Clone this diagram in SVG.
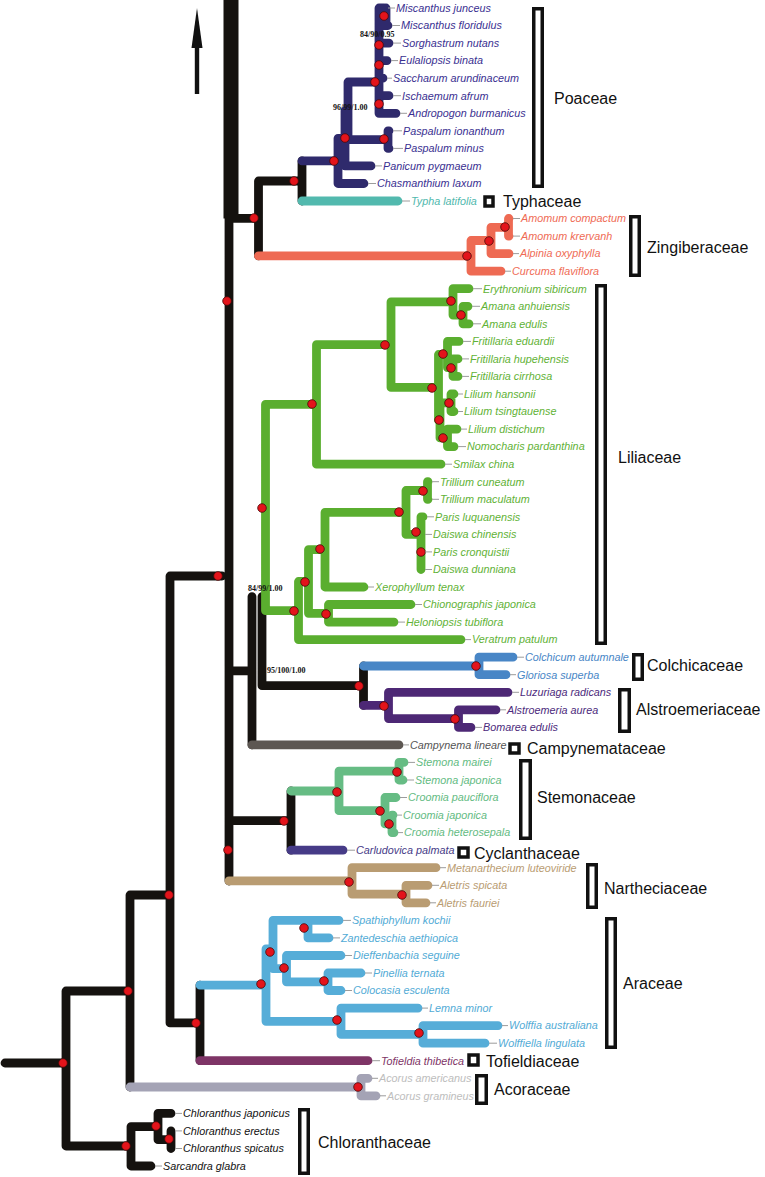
<svg xmlns="http://www.w3.org/2000/svg" width="765" height="1177" viewBox="0 0 765 1177">
<style>
.b{fill:none;stroke-width:8.8;stroke-linecap:round;stroke-linejoin:round}
.k{stroke:#15120f}.poa{stroke:#2f2a6c}.typ{stroke:#52b9ae}.zin{stroke:#ee6a53}.lil{stroke:#5aae2f}
.col{stroke:#4886c6}.als{stroke:#4d2875}.cam{stroke:#5d5752}.ste{stroke:#66bc84}.cyc{stroke:#463b87}
.nar{stroke:#b99c72}.ara{stroke:#56add8}.tof{stroke:#7e3466}.aco{stroke:#a4a3b5}
.d{fill:#e3141b;stroke:#4a0808;stroke-width:0.8}
.tk{stroke:#9c9c9c;stroke-width:1}
.t{font-family:"Liberation Sans",Arial,sans-serif;font-style:italic;font-size:10.8px}
.f{font-family:"Liberation Sans",Arial,sans-serif;font-size:16px;fill:#111}
.s{font-family:"Liberation Serif","Times New Roman",serif;font-weight:bold;font-size:8px;fill:#111}
.br{fill:#fff;stroke:#111;stroke-width:3.5}
.cpoa{fill:#3a3091}.ctyp{fill:#4fb8ad}.czin{fill:#ef6b55}.clil{fill:#5fb236}.ccol{fill:#4886c6}.cals{fill:#4c2a7c}
.ccam{fill:#555}.cste{fill:#63bb82}.ccyc{fill:#463b87}.cnar{fill:#b99c72}.cara{fill:#52abd6}.ctof{fill:#7e3466}.caco{fill:#bdbdbd}.cchl{fill:#111}
</style>

<g id="arrow">
<rect x="194.8" y="46" width="4.4" height="48" fill="#111"/>
<polygon points="197,8 202.5,48 191.5,48" fill="#111"/>
</g>

<g id="connectors">
<!-- black backbone -->
<path class="b k" d="M231,0 V218.4" style="stroke-width:15;stroke-linecap:butt"/>
<path class="b k" d="M229,218.4 V881 M229,218.4 H258.5 M258.5,181 V255.8 M258.5,181 H302 M302,160.9 V201
M229,670.8 H252 M252,596.6 V744.9 M262,596.6 V685.7 M262,685.7 H363.5 M363.5,666 V705.4
M229,820.6 H291 M291,791 V850.2
M170,576 H222 M170,576 V1022.9 M170,1022.9 H200 M200,985.1 V1060.7
M130,895 H170 M130,895 V1087 M66,991 H130 M66,991 V1146 M5,1063 H66 M66,1146 H131
M131,1126.6 V1166 M131,1126.6 H158 M158,1113.4 V1139.7 M158,1113.4 H171 M158,1139.7 H171 M171,1130.9 V1148.5 M171,1148.5 H171 M131,1166 H151"/>
<!-- Poaceae -->
<path class="b poa" d="M302,160.9 H338 M338,138.3 V183.5 M338,183.5 H364 M338,138.3 H345 M345,110.8 V165.9 M345,165.9 H371 M345,110.8 H348
M348,82 V139.6 M348,139.6 H388 M388,130.8 V148.4 M388,130.8 H389 M388,148.4 H389 M348,82 H379
M379,8 V113.3 M386,8 V25.5 M379,8 H384 M379,25.5 H388 M379,43.1 H389 M379,60.6 H387 M379,78.2 H383 M379,95.7 H389 M379,113.3 H396"/>
<path class="b typ" d="M302,201 H398"/>
<!-- Zingiberaceae -->
<path class="b zin" d="M258.5,255.8 H471 M471,240.5 V271.2 M471,271.2 H501 M471,240.5 H491 M491,227.3 V253.6 M491,253.6 H509 M491,227.3 H508.5 M508.5,218.5 V236.1 M508.5,218.5 H509 M508.5,236.1 H509"/>
<!-- Liliaceae -->
<path class="b lil" d="M265.5,404.4 V610.6 M265.5,404.4 H316.5 M316.5,344.7 V464.2 M316.5,464.2 H441 M316.5,344.7 H391
M391,301.9 V387.4 M391,301.9 H453 M453,288.7 V315.1 M453,288.7 H469 M453,315.1 H463 M463,306.3 V323.8 M463,306.3 H468 M463,323.8 H469
M391,387.4 H438.5 M438.5,354.5 V420.3 M438.5,354.5 H447.5 M447.5,341.4 V367.7 M447.5,341.4 H459 M447.5,367.7 H453 M453,358.9 V376.4 M453,358.9 H458 M453,376.4 H458
M438.5,420.3 H440 M440,402.8 V437.9 M440,402.8 H451 M451,394 V411.5 M451,394 H454 M451,411.5 H454 M440,437.9 H447.5 M447.5,429.1 V446.6 M447.5,429.1 H457 M447.5,446.6 H454
M265.5,610.6 H298.5 M298.5,581.5 V639.6 M298.5,639.6 H461 M298.5,581.5 H308.5 M308.5,549.7 V613.3 M308.5,613.3 H328.5 M328.5,604.5 V622.1 M328.5,604.5 H411 M328.5,622.1 H394
M308.5,549.7 H325 M325,512.4 V587 M325,587 H364 M325,512.4 H406 M406,490.5 V534.4 M406,490.5 H427.5 M427.5,481.7 V499.3 M427.5,481.7 H428 M427.5,499.3 H428
M406,534.4 H421 M421,516.8 V569.5 M421,516.8 H423 M421,534.4 H421 M421,551.9 H421 M421,569.5 H421"/>
<!-- Colchicaceae / Alstroemeriaceae -->
<path class="b col" d="M363.5,666 H479 M479,657.2 V674.7 M479,657.2 H513 M479,674.7 H506"/>
<path class="b als" d="M363.5,705.4 H388.5 M388.5,692.3 V718.6 M388.5,692.3 H508 M388.5,718.6 H458.5 M458.5,709.8 V727.4 M458.5,709.8 H496 M458.5,727.4 H471"/>
<path class="b cam" d="M252,744.9 H399"/>
<!-- Stemonaceae / Cyclanthaceae -->
<path class="b ste" d="M291,791 H339 M339,771.2 V810.7 M339,771.2 H399 M399,762.4 V780 M399,762.4 H404 M399,780 H403 M339,810.7 H385 M385,797.5 V823.9 M385,797.5 H396 M385,823.9 H392 M392,815.1 V832.6 M392,815.1 H393 M392,832.6 H394"/>
<path class="b cyc" d="M291,850.2 H343"/>
<!-- Nartheciaceae -->
<path class="b nar" d="M229,880.9 H352 M352,867.7 V894.1 M352,867.7 H436 M352,894.1 H406 M406,885.3 V902.8 M406,885.3 H428 M406,902.8 H426"/>
<!-- Araceae -->
<path class="b ara" d="M200,985.1 H266 M266,948.9 V1021.3 M266,948.9 H273 M273,920.4 V968.6 M273,920.4 H339 M308,920.4 V937.9 M308,937.9 H329
M273,968.6 H286.5 M286.5,955.5 V981.8 M286.5,955.5 H341 M286.5,981.8 H328 M328,973 V990.5 M328,973 H361 M328,990.5 H341
M266,1021.3 H341 M341,1008.1 V1034.4 M341,1008.1 H418 M341,1034.4 H423 M423,1025.6 V1043.2 M423,1025.6 H498 M423,1043.2 H485"/>
<path class="b tof" d="M200,1060.7 H368"/>
<path class="b aco" d="M130,1087 H361 M361,1078.3 V1095.8 M361,1078.3 H368 M361,1095.8 H376"/>
</g>

<g id="nodes-support">
<circle class="d" cx="384" cy="16" r="4.3"/><circle class="d" cx="379" cy="45" r="4.3"/><circle class="d" cx="379" cy="65" r="4.3"/>
<circle class="d" cx="375" cy="82" r="4.3"/><circle class="d" cx="379" cy="104" r="4.3"/><circle class="d" cx="384" cy="139" r="4.3"/>
<circle class="d" cx="345" cy="138" r="4.3"/><circle class="d" cx="334" cy="161" r="4.3"/><circle class="d" cx="294" cy="181" r="4.3"/>
<circle class="d" cx="254" cy="218" r="4.3"/><circle class="d" cx="505" cy="227" r="4.3"/><circle class="d" cx="489" cy="241" r="4.3"/>
<circle class="d" cx="467" cy="256" r="4.3"/><circle class="d" cx="227" cy="301" r="4.3"/>
<circle class="d" cx="451" cy="301" r="4.3"/><circle class="d" cx="461" cy="315" r="4.3"/><circle class="d" cx="385" cy="345" r="4.3"/>
<circle class="d" cx="443" cy="354" r="4.3"/><circle class="d" cx="451" cy="368" r="4.3"/><circle class="d" cx="432" cy="388" r="4.3"/>
<circle class="d" cx="312" cy="404" r="4.3"/><circle class="d" cx="449" cy="403" r="4.3"/><circle class="d" cx="439" cy="420" r="4.3"/>
<circle class="d" cx="443" cy="438" r="4.3"/><circle class="d" cx="423" cy="491" r="4.3"/><circle class="d" cx="262" cy="508" r="4.3"/>
<circle class="d" cx="399" cy="512" r="4.3"/><circle class="d" cx="416" cy="532" r="4.3"/><circle class="d" cx="320" cy="549" r="4.3"/>
<circle class="d" cx="421" cy="552" r="4.3"/><circle class="d" cx="218" cy="576" r="4.3"/><circle class="d" cx="305" cy="582" r="4.3"/>
<circle class="d" cx="294" cy="611" r="4.3"/><circle class="d" cx="326" cy="614" r="4.3"/>
<circle class="d" cx="476" cy="666" r="4.3"/><circle class="d" cx="359" cy="686" r="4.3"/><circle class="d" cx="384" cy="706" r="4.3"/>
<circle class="d" cx="455" cy="719" r="4.3"/>
<circle class="d" cx="397" cy="772" r="4.3"/><circle class="d" cx="337" cy="792" r="4.3"/><circle class="d" cx="380" cy="811" r="4.3"/>
<circle class="d" cx="284" cy="821" r="4.3"/><circle class="d" cx="389" cy="824" r="4.3"/><circle class="d" cx="228" cy="850" r="4.3"/>
<circle class="d" cx="349" cy="882" r="4.3"/><circle class="d" cx="169" cy="895" r="4.3"/><circle class="d" cx="402" cy="895" r="4.3"/>
<circle class="d" cx="304" cy="928" r="4.3"/><circle class="d" cx="270" cy="952" r="4.3"/><circle class="d" cx="284" cy="968" r="4.3"/>
<circle class="d" cx="324" cy="981" r="4.3"/><circle class="d" cx="261" cy="984" r="4.3"/><circle class="d" cx="128" cy="991" r="4.3"/>
<circle class="d" cx="337" cy="1020" r="4.3"/>
<circle class="d" cx="196" cy="1023" r="4.3"/><circle class="d" cx="419" cy="1033" r="4.3"/><circle class="d" cx="63" cy="1063" r="4.3"/>
<circle class="d" cx="358" cy="1087" r="4.3"/><circle class="d" cx="156" cy="1126" r="4.3"/><circle class="d" cx="169" cy="1139" r="4.3"/>
<circle class="d" cx="126" cy="1146" r="4.3"/>
<text class="s" x="360" y="37">84/90/0.95</text>
<text class="s" x="333" y="110">96/99/1.00</text>
<text class="s" x="248" y="591">84/99/1.00</text>
<text class="s" x="267" y="673">95/100/1.00</text>
</g>

<g id="leaves">
<g id="n-mjun"><line class="tk" x1="388" y1="8" x2="395" y2="8"/><text class="t cpoa" x="396" y="11.8">Miscanthus junceus</text></g>
<g id="n-mflo"><line class="tk" x1="392" y1="25.5" x2="400" y2="25.5"/><text class="t cpoa" x="401" y="29.3">Miscanthus floridulus</text></g>
<g id="n-sorg"><line class="tk" x1="393" y1="43.1" x2="401" y2="43.1"/><text class="t cpoa" x="402" y="46.9">Sorghastrum nutans</text></g>
<g id="n-eula"><line class="tk" x1="391" y1="60.6" x2="398" y2="60.6"/><text class="t cpoa" x="399" y="64.4">Eulaliopsis binata</text></g>
<g id="n-sacc"><line class="tk" x1="387" y1="78.2" x2="392" y2="78.2"/><text class="t cpoa" x="393" y="82">Saccharum arundinaceum</text></g>
<g id="n-isch"><line class="tk" x1="393" y1="95.7" x2="401" y2="95.7"/><text class="t cpoa" x="402" y="99.5">Ischaemum afrum</text></g>
<g id="n-andr"><line class="tk" x1="400" y1="113.3" x2="407" y2="113.3"/><text class="t cpoa" x="408" y="117.1">Andropogon burmanicus</text></g>
<g id="n-pion"><line class="tk" x1="393" y1="130.8" x2="402" y2="130.8"/><text class="t cpoa" x="403" y="134.6">Paspalum ionanthum</text></g>
<g id="n-pmin"><line class="tk" x1="393" y1="148.4" x2="403" y2="148.4"/><text class="t cpoa" x="404" y="152.2">Paspalum minus</text></g>
<g id="n-pani"><line class="tk" x1="375" y1="165.9" x2="382" y2="165.9"/><text class="t cpoa" x="383" y="169.7">Panicum pygmaeum</text></g>
<g id="n-chas"><line class="tk" x1="368" y1="183.5" x2="376" y2="183.5"/><text class="t cpoa" x="377" y="187.3">Chasmanthium laxum</text></g>
<g id="n-typh"><line class="tk" x1="402" y1="201" x2="410" y2="201"/><text class="t ctyp" x="411" y="204.8">Typha latifolia</text></g>
<g id="n-acom"><line class="tk" x1="513" y1="218.5" x2="520" y2="218.5"/><text class="t czin" x="521" y="222.3">Amomum compactum</text></g>
<g id="n-akre"><line class="tk" x1="513" y1="236.1" x2="520" y2="236.1"/><text class="t czin" x="521" y="239.9">Amomum krervanh</text></g>
<g id="n-alpi"><line class="tk" x1="513" y1="253.6" x2="519" y2="253.6"/><text class="t czin" x="520" y="257.4">Alpinia oxyphylla</text></g>
<g id="n-curc"><line class="tk" x1="505" y1="271.2" x2="511" y2="271.2"/><text class="t czin" x="512" y="275">Curcuma flaviflora</text></g>
<g id="n-eryt"><line class="tk" x1="473" y1="288.7" x2="482" y2="288.7"/><text class="t clil" x="483" y="292.5">Erythronium sibiricum</text></g>
<g id="n-aanh"><line class="tk" x1="472" y1="306.3" x2="480" y2="306.3"/><text class="t clil" x="481" y="310.1">Amana anhuiensis</text></g>
<g id="n-aedu"><line class="tk" x1="473" y1="323.8" x2="481" y2="323.8"/><text class="t clil" x="482" y="327.6">Amana edulis</text></g>
<g id="n-fedu"><line class="tk" x1="463" y1="341.4" x2="471" y2="341.4"/><text class="t clil" x="472" y="345.2">Fritillaria eduardii</text></g>
<g id="n-fhup"><line class="tk" x1="462" y1="358.9" x2="469" y2="358.9"/><text class="t clil" x="470" y="362.7">Fritillaria hupehensis</text></g>
<g id="n-fcir"><line class="tk" x1="462" y1="376.4" x2="469" y2="376.4"/><text class="t clil" x="470" y="380.2">Fritillaria cirrhosa</text></g>
<g id="n-lhan"><line class="tk" x1="458" y1="394" x2="463" y2="394"/><text class="t clil" x="464" y="397.8">Lilium hansonii</text></g>
<g id="n-ltsi"><line class="tk" x1="458" y1="411.5" x2="463" y2="411.5"/><text class="t clil" x="464" y="415.3">Lilium tsingtauense</text></g>
<g id="n-ldis"><line class="tk" x1="461" y1="429.1" x2="467" y2="429.1"/><text class="t clil" x="468" y="432.9">Lilium distichum</text></g>
<g id="n-nomo"><line class="tk" x1="458" y1="446.6" x2="466" y2="446.6"/><text class="t clil" x="467" y="450.4">Nomocharis pardanthina</text></g>
<g id="n-smil"><line class="tk" x1="445" y1="464.2" x2="452" y2="464.2"/><text class="t clil" x="453" y="468">Smilax china</text></g>
<g id="n-tcun"><line class="tk" x1="432" y1="481.7" x2="439" y2="481.7"/><text class="t clil" x="440" y="485.5">Trillium cuneatum</text></g>
<g id="n-tmac"><line class="tk" x1="432" y1="499.3" x2="439" y2="499.3"/><text class="t clil" x="440" y="503.1">Trillium maculatum</text></g>
<g id="n-pluq"><line class="tk" x1="427" y1="516.8" x2="434" y2="516.8"/><text class="t clil" x="435" y="520.6">Paris luquanensis</text></g>
<g id="n-dchi"><line class="tk" x1="425" y1="534.4" x2="432" y2="534.4"/><text class="t clil" x="433" y="538.2">Daiswa chinensis</text></g>
<g id="n-pcro"><line class="tk" x1="425" y1="551.9" x2="432" y2="551.9"/><text class="t clil" x="433" y="555.7">Paris cronquistii</text></g>
<g id="n-ddun"><line class="tk" x1="425" y1="569.5" x2="432" y2="569.5"/><text class="t clil" x="433" y="573.3">Daiswa dunniana</text></g>
<g id="n-xero"><line class="tk" x1="368" y1="587" x2="374" y2="587"/><text class="t clil" x="375" y="590.8">Xerophyllum tenax</text></g>
<g id="n-chio"><line class="tk" x1="415" y1="604.5" x2="422" y2="604.5"/><text class="t clil" x="423" y="608.3">Chionographis japonica</text></g>
<g id="n-helo"><line class="tk" x1="398" y1="622.1" x2="405" y2="622.1"/><text class="t clil" x="406" y="625.9">Heloniopsis tubiflora</text></g>
<g id="n-vera"><line class="tk" x1="465" y1="639.6" x2="471" y2="639.6"/><text class="t clil" x="472" y="643.4">Veratrum patulum</text></g>
<g id="n-colc"><line class="tk" x1="517" y1="657.2" x2="524" y2="657.2"/><text class="t ccol" x="525" y="661">Colchicum autumnale</text></g>
<g id="n-glor"><line class="tk" x1="510" y1="674.7" x2="516" y2="674.7"/><text class="t ccol" x="517" y="678.5">Gloriosa superba</text></g>
<g id="n-luzu"><line class="tk" x1="512" y1="692.3" x2="519" y2="692.3"/><text class="t cals" x="520" y="696.1">Luzuriaga radicans</text></g>
<g id="n-alst"><line class="tk" x1="500" y1="709.8" x2="506" y2="709.8"/><text class="t cals" x="507" y="713.6">Alstroemeria aurea</text></g>
<g id="n-boma"><line class="tk" x1="475" y1="727.4" x2="482" y2="727.4"/><text class="t cals" x="483" y="731.2">Bomarea edulis</text></g>
<g id="n-camp"><line class="tk" x1="403" y1="744.9" x2="409" y2="744.9"/><text class="t ccam" x="410" y="748.7">Campynema lineare</text></g>
<g id="n-smai"><line class="tk" x1="408" y1="762.4" x2="415" y2="762.4"/><text class="t cste" x="416" y="766.2">Stemona mairei</text></g>
<g id="n-sjap"><line class="tk" x1="407" y1="780" x2="414" y2="780"/><text class="t cste" x="415" y="783.8">Stemona japonica</text></g>
<g id="n-cpau"><line class="tk" x1="400" y1="797.5" x2="407" y2="797.5"/><text class="t cste" x="408" y="801.3">Croomia pauciflora</text></g>
<g id="n-cjap"><line class="tk" x1="397" y1="815.1" x2="402" y2="815.1"/><text class="t cste" x="403" y="818.9">Croomia japonica</text></g>
<g id="n-chet"><line class="tk" x1="398" y1="832.6" x2="403" y2="832.6"/><text class="t cste" x="404" y="836.4">Croomia heterosepala</text></g>
<g id="n-carl"><line class="tk" x1="347" y1="850.2" x2="355" y2="850.2"/><text class="t ccyc" x="356" y="854">Carludovica palmata</text></g>
<g id="n-meta"><line class="tk" x1="440" y1="867.7" x2="446" y2="867.7"/><text class="t cnar" x="447" y="871.5">Metanarthecium luteoviride</text></g>
<g id="n-aspi"><line class="tk" x1="432" y1="885.3" x2="439" y2="885.3"/><text class="t cnar" x="440" y="889.1">Aletris spicata</text></g>
<g id="n-afau"><line class="tk" x1="430" y1="902.8" x2="436" y2="902.8"/><text class="t cnar" x="437" y="906.6">Aletris fauriei</text></g>
<g id="n-spat"><line class="tk" x1="343" y1="920.4" x2="351" y2="920.4"/><text class="t cara" x="352" y="924.2">Spathiphyllum kochii</text></g>
<g id="n-zant"><line class="tk" x1="333" y1="937.9" x2="340" y2="937.9"/><text class="t cara" x="341" y="941.7">Zantedeschia aethiopica</text></g>
<g id="n-dief"><line class="tk" x1="345" y1="955.5" x2="352" y2="955.5"/><text class="t cara" x="353" y="959.3">Dieffenbachia seguine</text></g>
<g id="n-pine"><line class="tk" x1="365" y1="973" x2="372" y2="973"/><text class="t cara" x="373" y="976.8">Pinellia ternata</text></g>
<g id="n-colo"><line class="tk" x1="345" y1="990.5" x2="352" y2="990.5"/><text class="t cara" x="353" y="994.3">Colocasia esculenta</text></g>
<g id="n-lemn"><line class="tk" x1="422" y1="1008.1" x2="428" y2="1008.1"/><text class="t cara" x="429" y="1011.9">Lemna minor</text></g>
<g id="n-wolf"><line class="tk" x1="502" y1="1025.6" x2="508" y2="1025.6"/><text class="t cara" x="509" y="1029.4">Wolffia australiana</text></g>
<g id="n-wlin"><line class="tk" x1="489" y1="1043.2" x2="497" y2="1043.2"/><text class="t cara" x="498" y="1047">Wolffiella lingulata</text></g>
<g id="n-tofi"><line class="tk" x1="372" y1="1060.7" x2="380" y2="1060.7"/><text class="t ctof" x="381" y="1064.5">Tofieldia thibetica</text></g>
<g id="n-aame"><line class="tk" x1="372" y1="1078.3" x2="378" y2="1078.3"/><text class="t caco" x="379" y="1082.1">Acorus americanus</text></g>
<g id="n-agra"><line class="tk" x1="380" y1="1095.8" x2="386" y2="1095.8"/><text class="t caco" x="387" y="1099.6">Acorus gramineus</text></g>
<g id="n-cjpn"><line class="tk" x1="175" y1="1113.4" x2="182" y2="1113.4"/><text class="t cchl" x="183" y="1117.2">Chloranthus japonicus</text></g>
<g id="n-cere"><line class="tk" x1="175" y1="1130.9" x2="182" y2="1130.9"/><text class="t cchl" x="183" y="1134.7">Chloranthus erectus</text></g>
<g id="n-cspi"><line class="tk" x1="175" y1="1148.5" x2="182" y2="1148.5"/><text class="t cchl" x="183" y="1152.3">Chloranthus spicatus</text></g>
<g id="n-sarc"><line class="tk" x1="155" y1="1166" x2="162" y2="1166"/><text class="t cchl" x="163" y="1169.8">Sarcandra glabra</text></g>
</g>

<g id="families">
<g id="fam-poaceae"><rect class="br" x="533.75" y="8.75" width="8.5" height="177.5"/><text class="f" x="554" y="104">Poaceae</text></g>
<g id="fam-typhaceae"><rect class="br" x="485" y="197" width="8" height="9"/><text class="f" x="503" y="207">Typhaceae</text></g>
<g id="fam-zingiberaceae"><rect class="br" x="630.75" y="216.75" width="8.5" height="58.5"/><text class="f" x="647" y="253">Zingiberaceae</text></g>
<g id="fam-liliaceae"><rect class="br" x="596.75" y="285.75" width="8.5" height="357.5"/><text class="f" x="618" y="463">Liliaceae</text></g>
<g id="fam-colchicaceae"><rect class="br" x="633.75" y="654.75" width="8.5" height="24.5"/><text class="f" x="647" y="671">Colchicaceae</text></g>
<g id="fam-alstroemeriaceae"><rect class="br" x="619.75" y="689.75" width="9.5" height="41.5"/><text class="f" x="636" y="715">Alstroemeriaceae</text></g>
<g id="fam-campynemataceae"><rect class="br" x="510" y="744" width="9" height="9"/><text class="f" x="527" y="754">Campynemataceae</text></g>
<g id="fam-stemonaceae"><rect class="br" x="520.75" y="760.75" width="9.5" height="77.5"/><text class="f" x="537" y="803">Stemonaceae</text></g>
<g id="fam-cyclanthaceae"><rect class="br" x="459" y="848" width="9" height="9"/><text class="f" x="474" y="859">Cyclanthaceae</text></g>
<g id="fam-nartheciaceae"><rect class="br" x="587.75" y="864.75" width="8.5" height="42.5"/><text class="f" x="604" y="894">Nartheciaceae</text></g>
<g id="fam-araceae"><rect class="br" x="606.75" y="918.75" width="8.5" height="128.5"/><text class="f" x="623" y="989">Araceae</text></g>
<g id="fam-tofieldiaceae"><rect class="br" x="469" y="1055" width="9" height="10"/><text class="f" x="486" y="1067">Tofieldiaceae</text></g>
<g id="fam-acoraceae"><rect class="br" x="476.75" y="1075.75" width="9.5" height="27.5"/><text class="f" x="494" y="1095">Acoraceae</text></g>
<g id="fam-chloranthaceae"><rect class="br" x="299.75" y="1109.75" width="8.5" height="63.5"/><text class="f" x="318" y="1148">Chloranthaceae</text></g>
</g>
</svg>
